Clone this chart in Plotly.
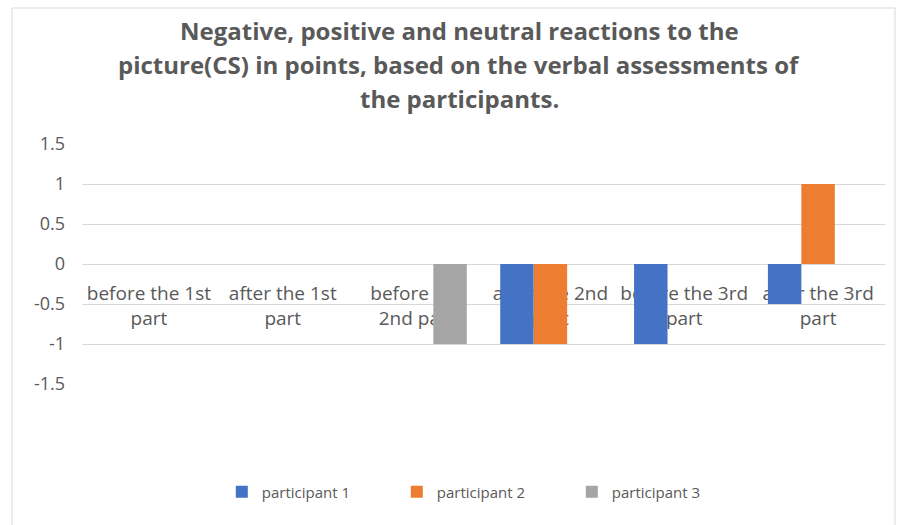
import plotly.graph_objects as go

# Stages of the experiment (x categories)
stages = [
    "before the 1st<br>part",
    "after the 1st<br>part",
    "before the<br>2nd part",
    "after the 2nd<br>part",
    "before the 3rd<br>part",
    "after the 3rd<br>part",
]

# Reaction scores per participant
participant_1 = [0, 0, 0, -1, -1, -0.5]
participant_2 = [0, 0, 0, -1, 0, 1]
participant_3 = [0, 0, -1, 0, 0, 0]

series_names = ["participant 1", "participant 2", "participant 3"]
series_colors = ["#4472C4", "#ED7D31", "#A5A5A5"]

y_ticks = [1.5, 1, 0.5, 0, -0.5, -1, -1.5]
y_tick_text = ["1.5", "1", "0.5", "0", "-0.5", "-1", "-1.5"]

title_lines = [
    "Negative, positive and neutral reactions to the",
    "picture(CS) in points, based on the verbal assessments of",
    "the participants.",
]

FONT = "'Open Sans', 'Noto Sans', sans-serif"
TEXT_COLOR = "#595959"
GRID = "#D9D9D9"

fig = go.Figure()
for name, vals, color in zip(series_names,
                             [participant_1, participant_2, participant_3],
                             series_colors):
    fig.add_trace(go.Bar(
        x=stages, y=vals, name=name,
        marker=dict(color=color, line=dict(width=0)),
    ))

fig.update_layout(
    width=898, height=525,
    margin=dict(l=82, r=13, t=144, b=141),
    paper_bgcolor="white", plot_bgcolor="white",
    barmode="group", bargap=0.25, bargroupgap=0,
    font=dict(family=FONT, color=TEXT_COLOR),
    showlegend=True,
    legend=dict(
        orientation="h", x=0.501, xanchor="center", y=-0.45, yanchor="middle",
        font=dict(size=15, color=TEXT_COLOR), itemwidth=30,
        entrywidth=130, entrywidthmode="pixels",
        traceorder="normal",
    ),
    xaxis=dict(
        anchor="free", position=0.5,
        showline=False, showgrid=False, zeroline=False,
        ticks="", tickfont=dict(size=19, color=TEXT_COLOR),
        ticklabelstandoff=16,
        layer="below traces",
    ),
    yaxis=dict(
        range=[-1.5, 1.5], tickvals=y_ticks, ticktext=y_tick_text,
        showgrid=True, gridcolor=GRID, gridwidth=1,
        zeroline=True, zerolinecolor=GRID, zerolinewidth=1,
        showline=False, ticks="",
        tickfont=dict(size=18, color=TEXT_COLOR),
        ticklabelstandoff=16,
    ),
)

# Chart title, one centred line at a time
for line, shift in zip(title_lines, [114, 80, 46]):
    fig.add_annotation(
        xref="paper", yref="paper", x=0.47, y=1.0, yshift=shift,
        xanchor="center", yanchor="middle", showarrow=False,
        text=f"<b>{line}</b>",
        font=dict(size=24, color=TEXT_COLOR, family=FONT),
    )

# Light frame around the chart area
fig.add_shape(
    type="rect", xref="paper", yref="paper",
    x0=-70 / 803, x1=1.0 + 10 / 803, y0=-1.0, y1=1.0 + 136 / 240,
    line=dict(color=GRID, width=1), layer="below",
)

fig.write_html("out.html")
